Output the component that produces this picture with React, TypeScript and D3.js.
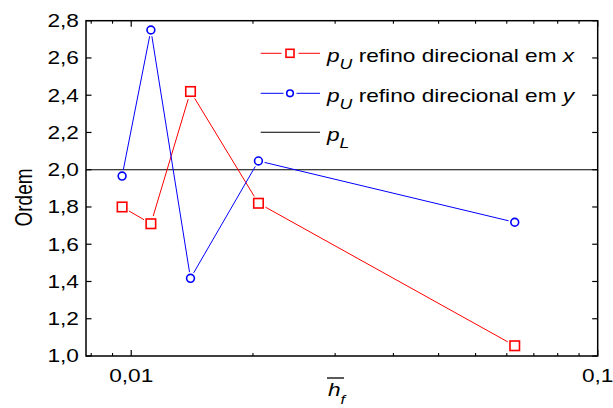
import React from "react";
import * as d3 from "d3";

// ---- data ----
const hf = [0.00956, 0.01102, 0.0134, 0.01874, 0.0664];
const pUx = [1.8, 1.71, 2.42, 1.82, 1.055];
const pUy = [1.966, 2.75, 1.417, 2.047, 1.718];
const pL = 2.0;
const yTicks = [1.0, 1.2, 1.4, 1.6, 1.8, 2.0, 2.2, 2.4, 2.6, 2.8];
const xMajorTicks = [0.01, 0.1];
const xMinorTicks = [0.009, 0.01, 0.02, 0.03, 0.04, 0.05, 0.06, 0.07, 0.08, 0.09, 0.1];
const minorTickShift = 0.912; // minor ticks in the source are drawn slightly offset
const legendLabels = ["refino direcional em ", "refino direcional em "];
const legendVars = ["x", "y"];

const W = 613;
const H = 408;
const L = 86, R = 597.7, T = 20.7, B = 356;
const SX = 1.26; // horizontal text stretch
const FONT = "'Liberation Sans', Arial, sans-serif";
const RED = "#ff0000";
const BLUE = "#0000ff";

const fmt = (v: number) => d3.format(".1f")(v).replace(".", ",");
const fmtX = (v: number) => String(v).replace(".", ",");

function segments(pts: [number, number][], gap: number) {
  const out: [number, number, number, number][] = [];
  for (let i = 0; i < pts.length - 1; i++) {
    const [x1, y1] = pts[i];
    const [x2, y2] = pts[i + 1];
    const d = Math.hypot(x2 - x1, y2 - y1);
    if (d <= 2 * gap) continue;
    const ux = (x2 - x1) / d, uy = (y2 - y1) / d;
    out.push([x1 + ux * gap, y1 + uy * gap, x2 - ux * gap, y2 - uy * gap]);
  }
  return out;
}

export default function App() {
  const x = d3.scaleLog().domain([0.008, 0.1]).range([L, R]);
  const y = d3.scaleLinear().domain([1.0, 2.8]).range([B, T]);

  const redPts: [number, number][] = hf.map((h, i) => [x(h), y(pUx[i])]);
  const bluePts: [number, number][] = hf.map((h, i) => [x(h), y(pUy[i])]);

  const sq = 9.5;
  const rC = 3.9;

  const legendRows = [53.3, 93.3, 132.3];
  const lx1 = 260.7, lx2 = 320, lmid = 290;
  const tx = 327;

  return (
    <svg width={W} height={H} style={{ position: "absolute", left: 0, top: 0, background: "#fff" }} fontFamily={FONT}>
      <rect x={0} y={0} width={W} height={H} fill="#fff" />
      {/* pL line */}
      <line x1={L} x2={R} y1={y(pL)} y2={y(pL)} stroke="#000" strokeWidth={1.1} />

      {/* red series */}
      {segments(redPts, 8).map((s, i) => (
        <line key={"rs" + i} x1={s[0]} y1={s[1]} x2={s[2]} y2={s[3]} stroke={RED} strokeWidth={1} />
      ))}
      {redPts.map((p, i) => (
        <rect key={"rp" + i} x={p[0] - sq / 2} y={p[1] - sq / 2} width={sq} height={sq} fill="#fff" stroke={RED} strokeWidth={1.6} />
      ))}
      {/* blue series */}
      {segments(bluePts, 6.3).map((s, i) => (
        <line key={"bs" + i} x1={s[0]} y1={s[1]} x2={s[2]} y2={s[3]} stroke={BLUE} strokeWidth={1} />
      ))}
      {bluePts.map((p, i) => (
        <circle key={"bp" + i} cx={p[0]} cy={p[1]} r={rC} fill="#fff" stroke={BLUE} strokeWidth={1.6} />
      ))}

      {/* frame */}
      <rect x={L} y={T} width={R - L} height={B - T} fill="none" stroke="#000" strokeWidth={1.5} />

      {/* y ticks */}
      {yTicks.map((v) => (
        <g key={"yt" + v}>
          <line x1={L} x2={L + 5.5} y1={y(v)} y2={y(v)} stroke="#000" strokeWidth={1.2} />
          <line x1={R} x2={R - 5.5} y1={y(v)} y2={y(v)} stroke="#000" strokeWidth={1.2} />
          <text transform={`translate(79,${y(v)}) scale(${SX},1)`} textAnchor="end" dy="0.35em" fontSize={18} fill="#000">
            {fmt(v)}
          </text>
        </g>
      ))}

      {/* x minor ticks */}
      {xMinorTicks.map((v) => {
        const px = x(v * minorTickShift);
        return (
          <g key={"xm" + v}>
            <line x1={px} x2={px} y1={B} y2={B - 3} stroke="#000" strokeWidth={1.1} />
            <line x1={px} x2={px} y1={T} y2={T + 3} stroke="#000" strokeWidth={1.1} />
          </g>
        );
      })}
      {/* x major ticks */}
      {xMajorTicks.map((v) => (
        <g key={"xM" + v}>
          <line x1={x(v)} x2={x(v)} y1={B} y2={B - 6} stroke="#000" strokeWidth={1.2} />
          <line x1={x(v)} x2={x(v)} y1={T} y2={T + 6} stroke="#000" strokeWidth={1.2} />
          <text transform={`translate(${x(v)},381.5) scale(${SX},1)`} textAnchor="middle" fontSize={18} fill="#000">
            {fmtX(v)}
          </text>
        </g>
      ))}

      {/* y axis title */}
      <text transform={`translate(32,197.5) rotate(-90) scale(1,${SX})`} textAnchor="middle" fontSize={19} fill="#000">
        Ordem
      </text>

      {/* x axis title */}
      <line x1={327} x2={344} y1={378} y2={378} stroke="#000" strokeWidth={1.3} />
      <text transform={`translate(328,396) scale(${SX},1)`} fontSize={18} fill="#000" fontStyle="italic">
        h<tspan fontSize={13} dy={8}>f</tspan>
      </text>

      {/* legend */}
      {[0, 1].map((i) => {
        const ly = legendRows[i];
        const col = i === 0 ? RED : BLUE;
        const g = i === 0 ? 8.5 : 6.5;
        return (
          <g key={"lg" + i}>
            <line x1={lx1} x2={lmid - g} y1={ly} y2={ly} stroke={col} strokeWidth={1} />
            <line x1={lmid + g} x2={lx2} y1={ly} y2={ly} stroke={col} strokeWidth={1} />
            {i === 0 ? (
              <rect x={lmid - 4} y={ly - 4} width={8} height={8} fill="#fff" stroke={col} strokeWidth={1.6} />
            ) : (
              <circle cx={lmid} cy={ly} r={3.3} fill="#fff" stroke={col} strokeWidth={1.6} />
            )}
            <text transform={`translate(${tx},${ly + 8.5}) scale(${SX},1)`} fontSize={18} fill="#000">
              <tspan fontStyle="italic">p</tspan>
              <tspan fontStyle="italic" fontSize={14} dy={7}>U</tspan>
              <tspan dy={-7}>{" " + legendLabels[i]}</tspan>
              <tspan fontStyle="italic">{legendVars[i]}</tspan>
            </text>
          </g>
        );
      })}
      <line x1={lx1} x2={lx2} y1={legendRows[2]} y2={legendRows[2]} stroke="#000" strokeWidth={1.1} />
      <text transform={`translate(${tx},${legendRows[2] + 8.5}) scale(${SX},1)`} fontSize={18} fill="#000">
        <tspan fontStyle="italic">p</tspan>
        <tspan fontStyle="italic" fontSize={14} dy={7}>L</tspan>
      </text>
    </svg>
  );
}
